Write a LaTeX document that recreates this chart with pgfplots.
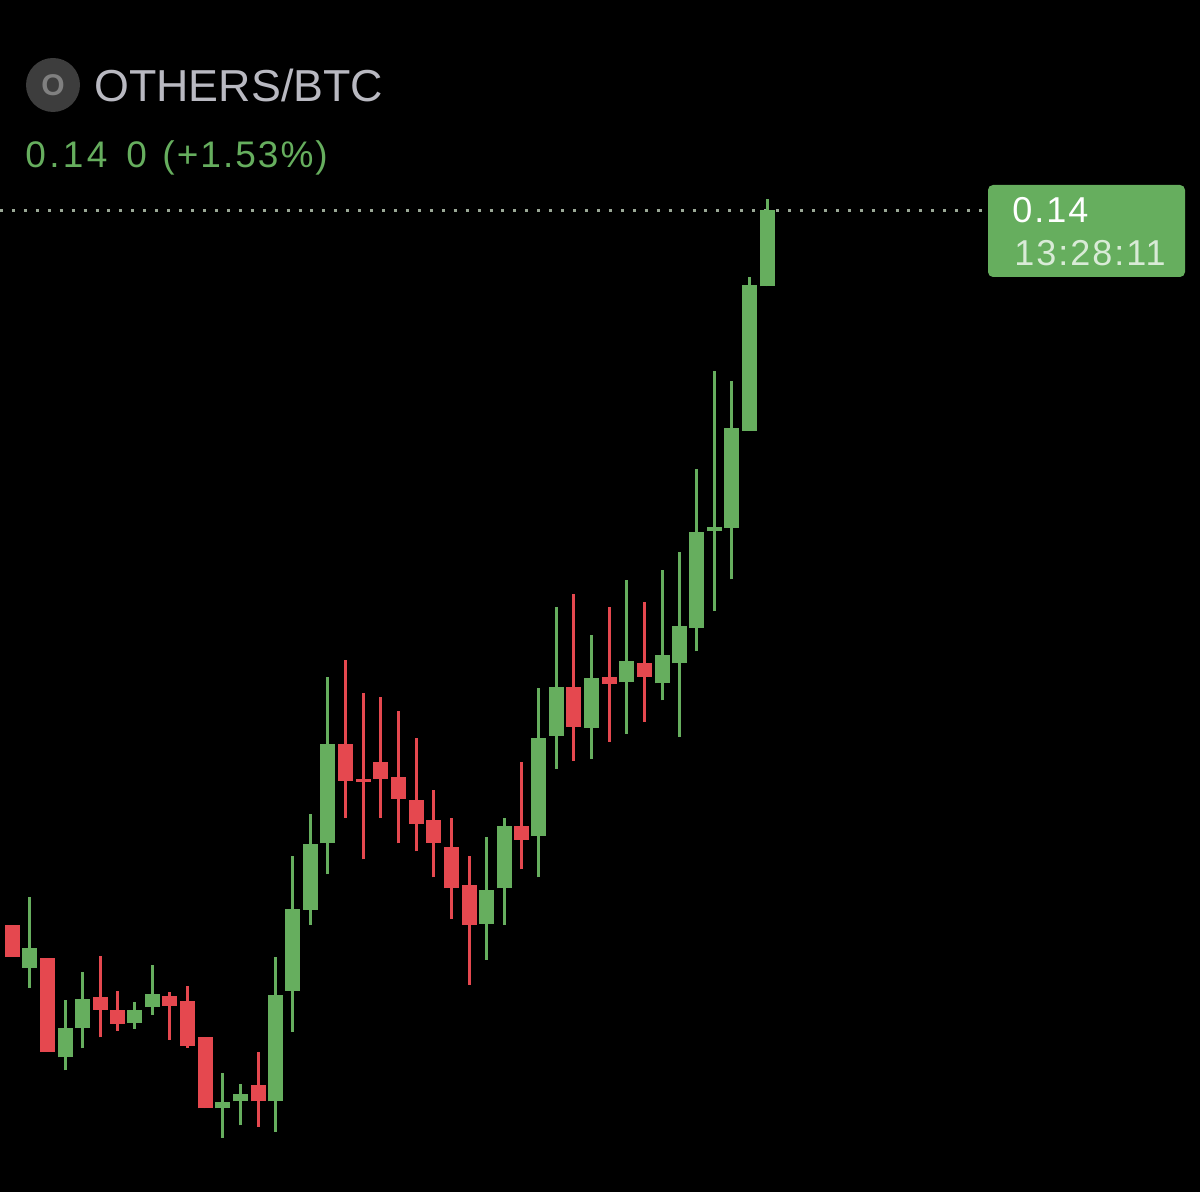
\documentclass[border=0pt]{standalone}
\usepackage{xcolor}
\usepackage{pgfplots}
\usepackage{pgfplotstable}
\usepackage{fontspec}
\setmainfont{Liberation Sans}
\newfontfamily\wideA[LetterSpace=9]{Liberation Sans}
\newfontfamily\wideB[LetterSpace=5.5]{Liberation Sans}
\pgfplotsset{compat=1.18}
\definecolor{candlegreen}{HTML}{66AE5E}
\definecolor{candlered}{HTML}{E5484F}
\definecolor{titlegrey}{HTML}{B9B9C1}
\definecolor{pricedots}{HTML}{9AA896}
\pagecolor{black}

% candles: height in px above the bottom edge
\pgfplotstableread{
x     low    bot    top    high
29.0  204.3  224.0  243.7  295.3
65.0  121.7  134.7  164.0  191.7
82.0  143.7  164.3  193.0  219.7
134.7 163.3  169.3  182.0  190.0
152.7 177.3  185.3  197.7  226.7
222.3 54.3   83.7   90.3   119.3
240.3 66.7   90.7   98.3   108.3
275.0 60.3   90.7   196.7  235.3
292.7 160.3  201.3  283.0  336.0
310.7 267.0  282.0  348.0  378.0
327.7 317.7  348.7  447.7  515.3
486.0 232.0  268.0  302.3  355.0
504.0 267.0  303.7  366.0  373.7
538.7 314.7  356.3  453.7  504.3
556.7 423.0  456.0  505.3  585.0
591.3 433.0  464.0  514.3  557.0
626.3 458.0  509.7  531.0  611.7
662.3 491.7  508.7  537.0  622.0
679.0 455.3  528.7  566.0  640.0
696.7 540.7  564.3  659.7  723.3
714.7 581.3  660.7  665.3  820.7
731.7 612.7  664.0  764.0  810.7
749.7 761.3  761.3  907.3  915.3
767.7 905.7  905.7  982.0  993.0
}\greencandles

\pgfplotstableread{
x     low    bot    top    high
12.5  235.0  235.0  266.7  266.7
47.0  140.3  140.3  233.7  233.7
100.0 154.7  182.3  195.0  235.7
117.0 161.3  168.3  182.0  200.7
169.7 152.3  186.3  196.0  199.7
187.3 144.3  146.3  191.0  205.7
205.3 83.7   83.7   155.0  155.0
258.3 65.0   90.7   107.3  140.0
345.7 374.3  411.3  447.7  532.3
363.7 332.7  410.0  412.7  498.7
380.3 374.3  413.0  430.0  495.3
398.3 348.7  393.3  415.0  481.3
416.3 340.7  368.3  392.0  454.3
433.3 314.7  349.3  372.0  401.7
451.3 273.0  303.7  345.0  373.7
469.3 207.3  267.0  307.3  336.0
521.7 322.7  352.3  366.0  429.7
573.3 431.0  465.0  504.7  598.0
609.3 450.0  508.3  514.7  585.0
644.3 470.0  515.3  529.3  590.3
}\redcandles

\begin{document}
\begin{tikzpicture}
\path[use as bounding box] (0,0) rectangle (600pt,596pt);
\begin{axis}[
	scale only axis,
	width=600pt,
	height=596pt,
	xmin=0, xmax=1200,
	ymin=0, ymax=1192,
	ticks=none,
	axis line style={draw=none},
	axis background/.style={fill=black},
	clip=false,
	candle/.style 2 args={
		draw=none, mark=none,
		error bars/.cd,
			y dir=plus, y explicit, error mark=none,
			error bar style={draw=#1, line width=#2},
	},
]
	% price line
	\addplot[pricedots, line width=1.5pt, dash pattern=on 1.5pt off 4.47pt] coordinates {(0,981.7) (985,981.7)};

	\addplot[candle={candlegreen}{1.5pt}] table[x=x, y=low, y error expr=\thisrow{high}-\thisrow{low}] {\greencandles};
	\addplot[candle={candlegreen}{7.5pt}] table[x=x, y=bot, y error expr=\thisrow{top}-\thisrow{bot}] {\greencandles};
	\addplot[candle={candlered}{1.5pt}] table[x=x, y=low, y error expr=\thisrow{high}-\thisrow{low}] {\redcandles};
	\addplot[candle={candlered}{7.5pt}] table[x=x, y=bot, y error expr=\thisrow{top}-\thisrow{bot}] {\redcandles};

	% header
	\fill[black!76!white] (axis cs:53,1107) circle (13.5pt);
	\node[text=black!50!white, font=\fontsize{15}{15}\selectfont\bfseries] at (axis cs:53,1107) {O};
	\node[anchor=base west, inner sep=0pt, text=titlegrey, font=\fontsize{22.4}{22.4}\selectfont] at (axis cs:94,1090.5) {OTHERS/BTC};
	\node[anchor=base west, inner sep=0pt, text=candlegreen, font=\fontsize{18.5}{18.5}\selectfont\wideA] at (axis cs:25,1024) {0.14};
	\node[anchor=base west, inner sep=0pt, text=candlegreen, font=\fontsize{18.5}{18.5}\selectfont\wideA] at (axis cs:126,1024) {0};
	\node[anchor=base west, inner sep=0pt, text=candlegreen, font=\fontsize{18.5}{18.5}\selectfont\wideB] at (axis cs:162,1024) {(+1.53\%)};

	% last price box
	\fill[candlegreen, rounded corners=2.5pt] (axis cs:988,1007) rectangle (axis cs:1185,915);
	\node[anchor=base west, inner sep=0pt, text=white, font=\fontsize{18}{18}\selectfont\wideB] at (axis cs:1012,969) {0.14};
	\node[anchor=base west, inner sep=0pt, text=white!75!candlegreen, font=\fontsize{18}{18}\selectfont\wideB] at (axis cs:1014,926) {13:28:11};
\end{axis}
\end{tikzpicture}
\end{document}
